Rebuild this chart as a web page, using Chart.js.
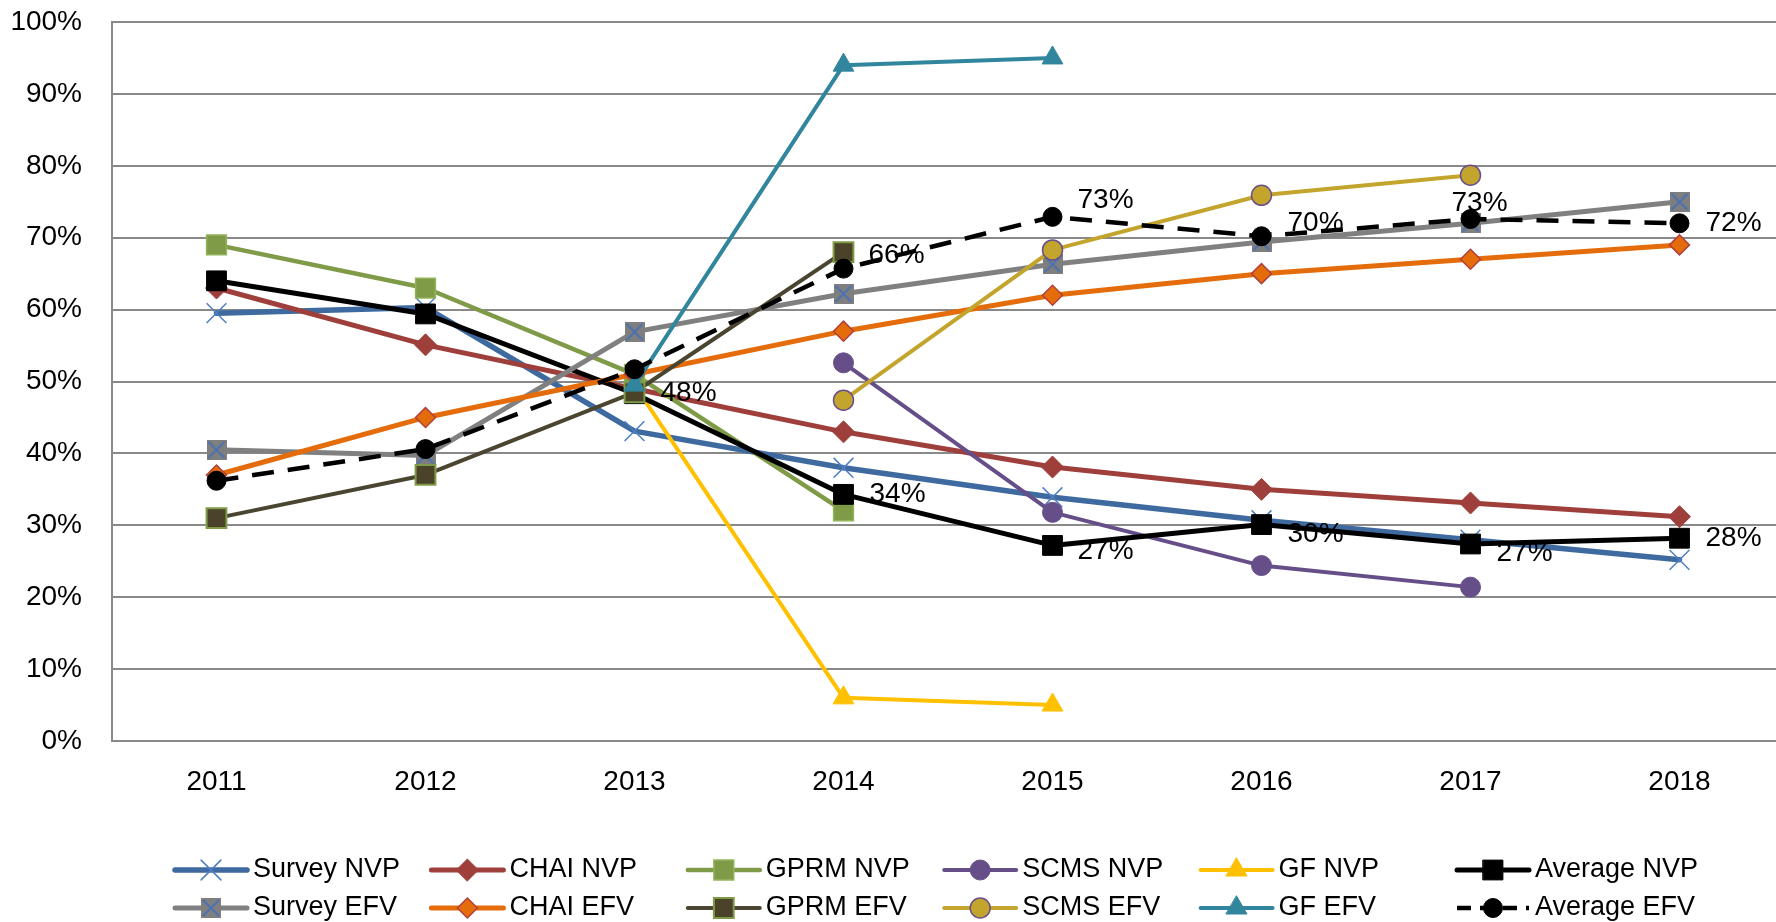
<!DOCTYPE html>
<html>
<head>
<meta charset="utf-8">
<title>NVP / EFV</title>
<script src="https://cdn.jsdelivr.net/npm/chart.js@4/dist/chart.umd.min.js"></script>
<style>
  html, body { margin: 0; padding: 0; background: #fff; overflow: hidden; }
  #wrap { position: relative; width: 1800px; height: 922px; }
  canvas { display: block; }
</style>
</head>
<body>
<div id="wrap"><canvas id="chart" width="1800" height="922"></canvas></div>
<script>
// Chart values (percent)
const years = ["2011", "2012", "2013", "2014", "2015", "2016", "2017", "2018"]
const yTicks = [0, 10, 20, 30, 40, 50, 60, 70, 80, 90, 100]

const surveyNvp = [59.5, 60.3, 43.1, 38.0, 33.9, 30.7, 28.0, 25.2]
const chaiNvp = [63.0, 55.1, 49.0, 43.0, 38.1, 35.0, 33.1, 31.2]
const gprmNvp = [69.0, 63.0, 51.0, 32.0, null, null, null, null]
const scmsNvp = [null, null, null, 52.6, 31.8, 24.4, 21.4, null]
const gfNvp = [null, null, 49.5, 6.0, 5.0, null, null, null]
const averageNvp = [64.0, 59.4, 48.3, 34.3, 27.2, 30.1, 27.4, 28.2]

const surveyEfv = [40.5, 39.7, 56.9, 62.2, 66.3, 69.4, 72.0, 75.0]
const chaiEfv = [37.0, 45.0, 51.0, 57.0, 62.0, 65.0, 67.0, 69.0]
const gprmEfv = [31.0, 37.0, 48.5, 68.0, null, null, null, null]
const scmsEfv = [null, null, null, 47.4, 68.3, 75.9, 78.7, null]
const gfEfv = [null, null, 49.5, 94.0, 95.0, null, null, null]
const averageEfv = [36.2, 40.6, 51.7, 65.7, 72.9, 70.2, 72.6, 72.0]

// Which points of the averages carry a value label
const averageNvpLabelAt = [2, 3, 4, 5, 6, 7]
const averageEfvLabelAt = [3, 4, 5, 6, 7]

const FONT = '"Liberation Sans", Arial, sans-serif'
const GRID = "#898989"

// Gray square with a blue cross (Survey EFV marker)
function crossSquare(size) {
  const c = document.createElement("canvas")
  c.width = size
  c.height = size
  const g = c.getContext("2d")
  g.fillStyle = "#7f7f7f"
  g.fillRect(0, 0, size, size)
  g.strokeStyle = "#4a72b2"
  g.lineWidth = 2
  g.beginPath()
  g.moveTo(2, 2)
  g.lineTo(size - 2, size - 2)
  g.moveTo(size - 2, 2)
  g.lineTo(2, size - 2)
  g.stroke()
  return c
}

function series(label, data, color, width, point) {
  return Object.assign({
    label: label,
    data: data,
    borderColor: color,
    borderWidth: width,
    borderCapStyle: "round",
    borderJoinStyle: "round",
    tension: 0,
    fill: false,
    spanGaps: false,
    pointStyle: "circle",
    pointRadius: 10,
    pointHoverRadius: 10,
    pointBackgroundColor: color,
    pointBorderColor: color,
    pointBorderWidth: 1,
  }, point)
}

const datasets = [
  series("Survey NVP", surveyNvp, "#3e6aa0", 5.5, { pointStyle: "crossRot", pointRadius: 14, pointBorderColor: "#4f7fc0", pointBorderWidth: 1.5 }),
  series("CHAI NVP", chaiNvp, "#9f3f3b", 5, { pointStyle: "rectRot", pointRadius: 11 }),
  series("GPRM NVP", gprmNvp, "#7f9b48", 4.5, { pointStyle: "rect", pointRadius: 14, pointBorderColor: "#92b458", pointBorderWidth: 1.5 }),
  series("SCMS NVP", scmsNvp, "#664f88", 4, { pointRadius: 10 }),
  series("GF NVP", gfNvp, "#ffc000", 4, { pointStyle: "triangle", pointRadius: 12 }),
  series("Average NVP", averageNvp, "#000000", 5, { pointStyle: "rect", pointRadius: 14 }),
  series("Survey EFV", surveyEfv, "#808080", 5, { pointStyle: crossSquare(20), pointRadius: 10 }),
  series("CHAI EFV", chaiEfv, "#e46c0a", 5, { pointStyle: "rectRot", pointRadius: 10, pointBorderColor: "#b0413e", pointBorderWidth: 1.5 }),
  series("GPRM EFV", gprmEfv, "#4a4530", 4, { pointStyle: "rect", pointRadius: 14, pointBackgroundColor: "#4b4329", pointBorderColor: "#7f9b48", pointBorderWidth: 2 }),
  series("SCMS EFV", scmsEfv, "#c3a52e", 4, { pointRadius: 10, pointBorderColor: "#6a4f8a", pointBorderWidth: 1.5 }),
  series("GF EFV", gfEfv, "#31859c", 4, { pointStyle: "triangle", pointRadius: 12 }),
  series("Average EFV", averageEfv, "#000000", 4.5, { borderDash: [22, 14], borderCapStyle: "butt", pointRadius: 9.5 }),
]

// later series on top, like the spreadsheet
datasets.forEach((ds, i) => { ds.order = datasets.length - i })

// Value labels next to the average points
const valueLabels = {
  id: "valueLabels",
  afterDatasetsDraw(chart, args, opts) {
    const ctx = chart.ctx
    ctx.save()
    ctx.font = "28px " + FONT
    ctx.fillStyle = "#000"
    ctx.textBaseline = "middle"
    ctx.textAlign = "left"
    opts.sets.forEach((set) => {
      const meta = chart.getDatasetMeta(set.index)
      const values = chart.data.datasets[set.index].data
      set.at.forEach((i, k) => {
        const pt = meta.data[i]
        const shift = set.shift[k]
        ctx.fillText(Math.round(values[i]) + "%", pt.x + shift[0], pt.y + shift[1])
      })
    })
    ctx.restore()
  },
}

// Legend laid out as a 6 x 2 grid
const gridLegend = {
  id: "gridLegend",
  afterDraw(chart, args, opts) {
    const ctx = chart.ctx
    ctx.save()
    ctx.font = opts.size + "px " + FONT
    ctx.textBaseline = "middle"
    ctx.textAlign = "left"
    chart.data.datasets.forEach((ds, i) => {
      const col = i % opts.columns
      const row = Math.floor(i / opts.columns)
      const x = opts.left + col * opts.colWidth
      const y = opts.top + row * opts.rowHeight

      ctx.strokeStyle = ds.borderColor
      ctx.lineWidth = ds.borderWidth
      ctx.lineCap = ds.borderDash ? "butt" : "round"
      ctx.setLineDash(ds.borderDash ? [14, 9] : [])
      ctx.beginPath()
      ctx.moveTo(x, y)
      ctx.lineTo(x + opts.lineLength, y)
      ctx.stroke()
      ctx.setLineDash([])

      ctx.fillStyle = ds.pointBackgroundColor
      ctx.strokeStyle = ds.pointBorderColor
      ctx.lineWidth = ds.pointBorderWidth
      Chart.helpers.drawPoint(ctx, {
        pointStyle: ds.pointStyle,
        radius: ds.pointRadius,
        rotation: 0,
        borderWidth: ds.pointBorderWidth,
      }, x + opts.lineLength / 2, y)

      ctx.fillStyle = "#000"
      ctx.fillText(ds.label, x + opts.textGap, y)
    })
    ctx.restore()
  },
}

new Chart(document.getElementById("chart"), {
  type: "line",
  data: { labels: years, datasets: datasets },
  plugins: [valueLabels, gridLegend],
  options: {
    responsive: false,
    animation: false,
    devicePixelRatio: 1,
    layout: { padding: { top: 22, right: 1, bottom: 71, left: 0 } },
    scales: {
      x: {
        type: "category",
        offset: true,
        grid: { display: false, drawTicks: false },
        border: { display: false },
        ticks: { color: "#000", font: { family: FONT, size: 28 }, padding: 24, maxRotation: 0 },
        afterFit(scale) {
          scale.height = 110
          scale.paddingLeft = 0
          scale.paddingRight = 0
        },
      },
      y: {
        min: 0,
        max: 100,
        afterBuildTicks(scale) { scale.ticks = yTicks.map((v) => ({ value: v })) },
        grid: { color: GRID, lineWidth: 2, drawTicks: false },
        border: { display: true, color: GRID, width: 2 },
        ticks: {
          color: "#000",
          font: { family: FONT, size: 28 },
          padding: 30,
          callback: (v) => v + "%",
        },
        afterFit(scale) {
          scale.width = 112
          scale.paddingTop = 0
          scale.paddingBottom = 0
        },
      },
    },
    plugins: {
      legend: { display: false },
      tooltip: { enabled: false },
      valueLabels: {
        sets: [
          { index: 5, at: averageNvpLabelAt, shift: [[26, 0], [26, 0], [25, 6], [26, 10], [26, 9], [26, 0]] },
          { index: 11, at: averageEfvLabelAt, shift: [[25, -13], [25, -17], [26, -13], [-19, -16], [26, 0]] },
        ],
      },
      gridLegend: {
        columns: 6,
        left: 175,
        top: 870,
        colWidth: 256.4,
        rowHeight: 38,
        lineLength: 72,
        textGap: 78,
        size: 27,
      },
    },
  },
})
</script>
</body>
</html>
